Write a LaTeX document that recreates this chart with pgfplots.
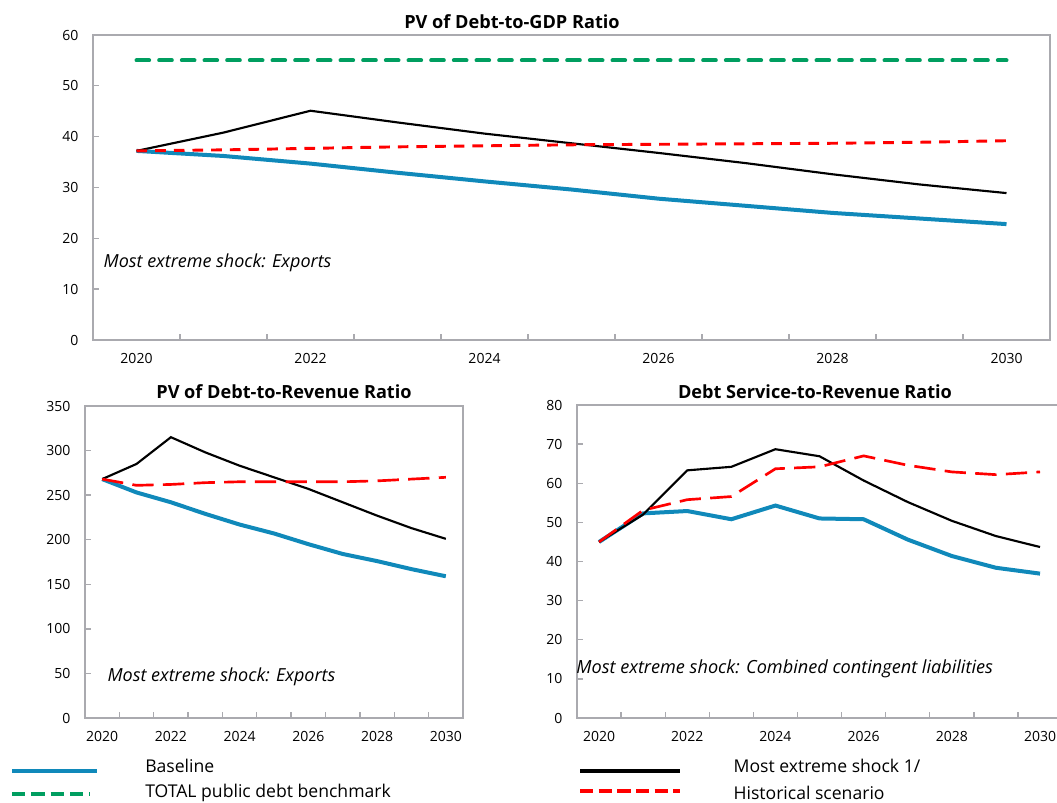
\documentclass[border=0pt]{standalone}
\usepackage{pgfplots}
\pgfplotsset{compat=1.18}
\usepackage{pgfplotstable}
\usepackage{fontspec}
\setmainfont{Open Sans}

\definecolor{base}{RGB}{16,137,186}
\definecolor{bench}{RGB}{0,158,96}
\definecolor{frame}{RGB}{170,170,175}

% year, baseline, benchmark, most extreme shock, historical
\pgfplotstableread{
year base bench shock hist
2020 37.2 55 37.2 37.2
2021 36.2 55 40.8 37.4
2022 34.7 55 45.1 37.7
2023 32.9 55 42.8 38.0
2024 31.2 55 40.6 38.2
2025 29.6 55 38.7 38.4
2026 27.8 55 36.8 38.5
2027 26.4 55 34.8 38.6
2028 25.0 55 32.6 38.7
2029 23.9 55 30.6 38.9
2030 22.8 55 28.9 39.2
}\gdp

\pgfplotstableread{
year base shock hist
2020 268 268 268
2021 253 285 261
2022 242 315 262
2023 229 298 264
2024 217 283 265
2025 207 270 265
2026 195 257 265
2027 184 242 265
2028 176 227 266
2029 167 213 268
2030 159 201 270
}\rev

\pgfplotstableread{
year base shock hist
2020 45.0 45.0 45.0
2021 52.3 52.0 53.1
2022 52.9 63.3 55.8
2023 50.8 64.2 56.6
2024 54.3 68.7 63.7
2025 51.0 66.9 64.2
2026 50.8 60.7 67.0
2027 45.6 55.2 64.6
2028 41.4 50.4 62.9
2029 38.4 46.5 62.2
2030 36.9 43.7 62.9
}\serv

\pgfplotsset{dsa/.style={
    scale only axis, anchor=south west,
    xmin=2019.5, xmax=2030.5, ymin=0,
    xtick={2020,2022,...,2030},
    minor xtick={2020.5,2021.5,...,2029.5},
    major x tick style={draw=none},
    xtick pos=left, ytick pos=left,
    tick align=inside,
    major tick length=4.5pt, minor tick length=4.5pt,
    tick style={frame, line width=1pt},
    axis line style={frame, line width=1.3pt},
    ticklabel style={font=\fontsize{10.5}{12}\selectfont},
    xticklabel style={yshift=-6.5pt},
    yticklabel style={xshift=-7.5pt},
    /pgf/number format/1000 sep={},
    /pgf/number format/assume math mode=true,
    clip=false,
}}

\begin{document}
\begin{tikzpicture}
\useasboundingbox (0,0) rectangle (792.75pt,602.25pt);

% top panel
\begin{axis}[dsa, at={(69.75pt,347.25pt)}, width=717.75pt, height=228.75pt,
    ymax=60, ytick={0,10,...,60}]
\addplot[bench, line width=3pt, line cap=round, dash pattern=on 9.5pt off 7.5pt] table[x=year,y=bench] {\gdp};
\addplot[base, line width=3pt] table[x=year,y=base] {\gdp};
\addplot[black, line width=1.6pt] table[x=year,y=shock] {\gdp};
\addplot[red, line width=2.2pt, dash pattern=on 8pt off 6pt] table[x=year,y=hist] {\gdp};
\node[anchor=west, inner sep=0pt, font=\fontsize{13.5}{15}\selectfont\itshape] at (axis cs:2019.62,15.1) {Most extreme shock: Exports};
\end{axis}

% bottom left panel
\begin{axis}[dsa, at={(63.75pt,63.75pt)}, width=283.5pt, height=234pt,
    ymax=350, ytick={0,50,...,350}]
\addplot[base, line width=3pt] table[x=year,y=base] {\rev};
\addplot[black, line width=1.6pt] table[x=year,y=shock] {\rev};
\addplot[red, line width=2pt, dash pattern=on 16pt off 7pt] table[x=year,y=hist] {\rev};
\node[anchor=west, inner sep=0pt, font=\fontsize{13.5}{15}\selectfont\itshape] at (axis cs:2020.15,46.3) {Most extreme shock: Exports};
\end{axis}

% bottom right panel
\begin{axis}[dsa, at={(432.75pt,63.75pt)}, width=363.8pt, height=234.75pt,
    ymax=80, ytick={0,10,...,80}]
\addplot[base, line width=3pt] table[x=year,y=base] {\serv};
\addplot[black, line width=1.6pt] table[x=year,y=shock] {\serv};
\addplot[red, line width=2pt, dash pattern=on 16pt off 7pt] table[x=year,y=hist] {\serv};
\node[anchor=west, inner sep=0pt, font=\fontsize{13.6}{15}\selectfont\itshape] at (axis cs:2019.48,12.7) {Most extreme shock: Combined contingent liabilities};
\end{axis}

% titles
\node[font=\fontsize{13.6}{15}\selectfont\bfseries] at (384pt,586pt) {PV of Debt-to-GDP Ratio};
\node[font=\fontsize{13.6}{15}\selectfont\bfseries] at (213pt,308.5pt) {PV of Debt-to-Revenue Ratio};
\node[font=\fontsize{13.6}{15}\selectfont\bfseries] at (611.25pt,308.5pt) {Debt Service-to-Revenue Ratio};

% legend
\draw[base, line width=3pt] (9pt,24pt) -- (72.75pt,24pt);
\draw[bench, line width=3pt, dash pattern=on 10pt off 4.5pt] (9pt,6.75pt) -- (67.5pt,6.75pt);
\draw[black, line width=3.5pt] (435pt,24pt) -- (510pt,24pt);
\draw[red, line width=3pt, dash pattern=on 10pt off 4pt] (435pt,9pt) -- (510pt,9pt);
\node[anchor=west, inner sep=0pt, font=\fontsize{13.2}{15}\selectfont] at (108.75pt,27.5pt) {Baseline};
\node[anchor=west, inner sep=0pt, font=\fontsize{13.2}{15}\selectfont] at (108.75pt,7.5pt) {TOTAL public debt benchmark};
\node[anchor=west, inner sep=0pt, font=\fontsize{13.2}{15}\selectfont] at (550pt,27.5pt) {Most extreme shock 1/};
\node[anchor=west, inner sep=0pt, font=\fontsize{13.2}{15}\selectfont] at (550pt,7.5pt) {Historical scenario};
\end{tikzpicture}
\end{document}
